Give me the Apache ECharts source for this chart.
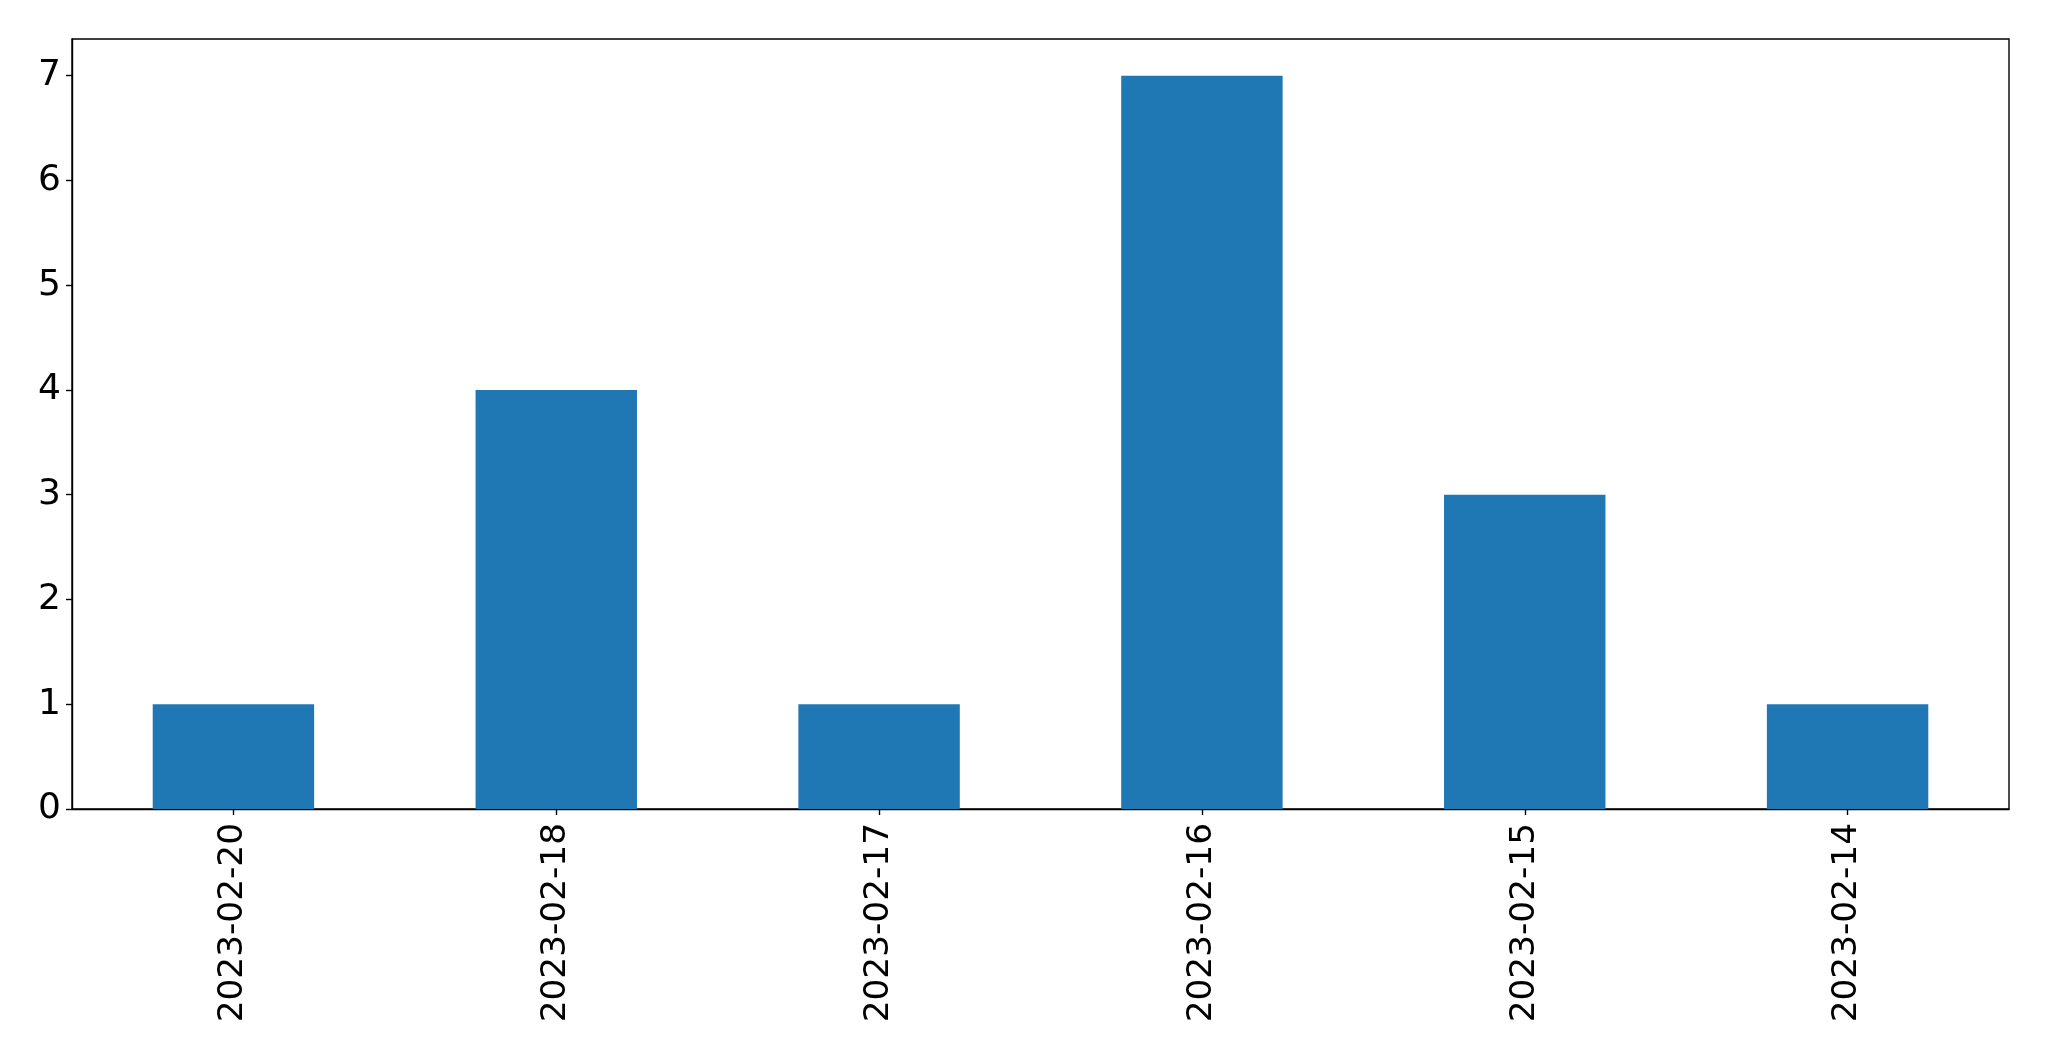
<!DOCTYPE html>
<html>
<head>
<meta charset="utf-8">
<script src="https://cdn.jsdelivr.net/npm/echarts@6/dist/echarts.min.js"></script>
<style>
html,body{margin:0;padding:0;background:#fff;}
#chart{width:2049px;height:1061px;}
</style>
</head>
<body>
<div id="chart"></div>
<script>
const categories = ['2023-02-20','2023-02-18','2023-02-17','2023-02-16','2023-02-15','2023-02-14'];
const counts = [1, 4, 1, 7, 3, 1];
const yTicks = [0, 1, 2, 3, 4, 5, 6, 7];

const chart = echarts.init(document.getElementById('chart'), null, {renderer: 'canvas'});
const font = 'DejaVu Sans';
chart.setOption({
  animation: false,
  backgroundColor: '#ffffff',
  grid: {left: 72, top: 39, width: 1937, height: 770, containLabel: false,
         show: true, borderColor: '#000', borderWidth: 1.4, backgroundColor: 'transparent'},
  xAxis: {
    type: 'category',
    data: categories,
    boundaryGap: true,
    axisLine: {show: true, lineStyle: {color: '#000', width: 1.4}},
    axisTick: {show: true, alignWithLabel: true, length: 6, lineStyle: {color: '#000', width: 1.4}},
    axisLabel: {rotate: 90, fontSize: 34.3, fontFamily: font, color: '#000', margin: 14}
  },
  yAxis: {
    type: 'value',
    min: 0, max: 7.35, interval: 1,
    splitLine: {show: false},
    axisLine: {show: true, lineStyle: {color: '#000', width: 1.4}},
    axisTick: {show: true, length: 6, lineStyle: {color: '#000', width: 1.4}, customValues: yTicks},
    axisLabel: {fontSize: 36, fontFamily: font, color: '#000', margin: 11, customValues: yTicks}
  },
  series: [{
    type: 'bar',
    data: counts,
    barWidth: '50%',
    itemStyle: {color: '#1f77b4'}
  }]
});
</script>
</body>
</html>
